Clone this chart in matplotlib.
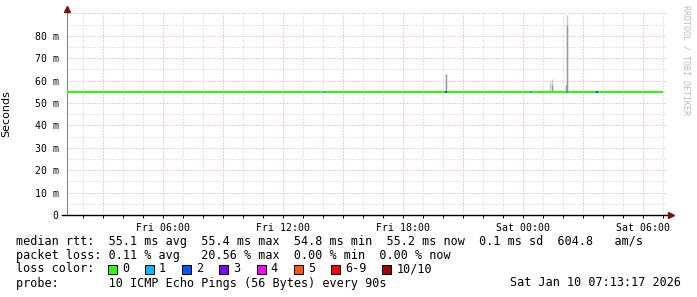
import matplotlib
matplotlib.use("Agg")
from matplotlib import pyplot as plt
from matplotlib.patches import Rectangle

# time axis: hours since Fri 00:00, window Fri 01:13 .. Sat 07:13
t_start = 1.2167
t_end = 31.2167
tick_hours = [6, 12, 18, 24, 30]
tick_labels = ['Fri 06:00', 'Fri 12:00', 'Fri 18:00', 'Sat 00:00', 'Sat 06:00']
ytick_vals = [0, 10, 20, 30, 40, 50, 60, 70, 80]
ytick_labels = ['0', '10 m', '20 m', '30 m', '40 m', '50 m', '60 m', '70 m', '80 m']

# median rtt (ms), one value per 30 min starting at t_start
median_ms = [55.1, 55.1, 55.1, 55.1, 55.1, 55.1, 55.1, 55.1, 55.1, 55.1,
             55.1, 55.1, 55.1, 55.1, 55.1, 55.1, 55.1, 55.1, 55.1, 55.1,
             55.1, 55.1, 55.1, 55.1, 55.1, 55.1, 55.1, 55.1, 55.1, 55.1,
             55.1, 55.1, 55.1, 55.1, 55.1, 55.1, 55.1, 55.1, 55.1, 55.1,
             55.1, 55.1, 55.1, 55.1, 55.1, 55.1, 55.1, 55.1, 55.1, 55.1,
             55.1, 55.1, 55.1, 55.1, 55.1, 55.1, 55.1, 55.1, 55.1, 55.1]

# short drops of the median line (start hour, duration h)
dip_hours = [2.12, 4.87, 6.47, 6.97, 7.27, 7.42, 7.72, 8.22, 9.02, 9.47,
             9.92, 10.12, 10.62, 11.62, 12.52, 13.27, 14.72, 15.47, 16.02,
             16.77, 16.97, 17.47, 18.37, 19.37, 20.47, 21.72, 22.72, 23.72,
             25.12, 26.27, 27.12, 28.22, 28.47, 28.82, 29.47, 29.82, 30.82]
dip_width = [0.1, 0.1, 0.1, 0.1, 0.1, 0.1, 0.1, 0.1, 0.1, 0.1,
             0.1, 0.1, 0.1, 0.1, 0.1, 0.1, 0.1, 0.1, 0.1,
             0.1, 0.1, 0.1, 0.1, 0.1, 0.1, 0.1, 0.1, 0.1,
             0.1, 0.1, 0.1, 0.1, 0.1, 0.1, 0.1, 0.3, 0.1]
dip_ms = 54.7

# packet loss events on the median line (hour, lost pings)
loss_hours = [14.12, 20.17, 24.42, 26.22, 27.67, 27.74]
loss_count = [1, 2, 1, 1, 1, 2]

# smoke spikes (hour, low ms, dark top ms, light top ms)
smoke_hours = [20.17, 25.37, 25.47, 26.17, 26.22]
smoke_lo = [55.2, 55.2, 55.2, 55.2, 55.2]
smoke_dark = [63.0, 55.2, 58.0, 58.0, 85.0]
smoke_light = [63.0, 59.5, 60.7, 58.0, 89.3]

loss_labels = ['0', '1', '2', '3', '4', '5', '6-9', '10/10']
loss_colors = ['#26ff00', '#00b8ff', '#0059ff', '#7e00ff', '#ff00ff',
               '#ff5500', '#ff0000', '#a00000']

W, H = 697, 297
fig = plt.figure(figsize=(W / 100, H / 100), dpi=100)
ax = fig.add_axes([67 / W, 1 - 215 / H, 600 / W, 203 / H])
ax.set_xlim(t_start, t_end)
ax.set_ylim(0, 90.6)

px = 0.72  # one pixel in points

# grid
for h in range(2, 32):
    major = (h % 3 == 0)
    ax.axvline(h, color='#e0a0a0' if major else '#cccccc', lw=px,
               ls=(0, (1, 2)), zorder=1)
for v in range(5, 91, 5):
    major = (v % 10 == 0)
    ax.axhline(v, color='#e0a0a0' if major else '#cccccc', lw=px,
               ls=(0, (1, 2)), zorder=1)

# smoke
ax.vlines(smoke_hours, smoke_lo, smoke_light, color='#c8c8c8', lw=1.4 * px, zorder=2)
ax.vlines(smoke_hours, smoke_lo, smoke_dark, color='#999999', lw=1.4 * px, zorder=2)

# median line
times = [t_start + 0.5 * i for i in range(len(median_ms))]
ax.step(times + [t_start + 0.5 * len(median_ms) - 0.2],
        median_ms + [median_ms[-1]], where='post',
        color=loss_colors[0], lw=2 * px, zorder=3, solid_capstyle='butt')
for h, w in zip(dip_hours, dip_width):
    ax.hlines(dip_ms, h, h + w, color=loss_colors[0], lw=2 * px, zorder=3)
for h, n in zip(loss_hours, loss_count):
    ax.hlines(55.1, h - 0.05, h + 0.05, color=loss_colors[n], lw=2 * px, zorder=4)

# axes
for s in ['top', 'right']:
    ax.spines[s].set_visible(False)
ax.spines['left'].set_color('#808080')
ax.spines['left'].set_linewidth(px)
ax.spines['bottom'].set_color('black')
ax.spines['bottom'].set_linewidth(1.4 * px)
ax.spines['bottom'].set_bounds(t_start - 0.25, t_end + 0.05)
ax.plot([t_start], [92.0], marker='^', ms=4, color='#7f1010', clip_on=False, zorder=5)
ax.plot([t_end + 0.18], [0], marker='>', ms=4, color='#7f1010', clip_on=False, zorder=5)

mono = 'DejaVu Sans Mono'
ax.set_xticks(tick_hours)
ax.set_xticklabels(tick_labels, fontfamily=mono, fontsize=7.1)
ax.set_xticks(range(2, 32), minor=True)
ax.tick_params(axis='x', which='major', length=2, width=px, pad=3.5, color='black')
ax.tick_params(axis='x', which='minor', length=2, width=px, color='black')
ax.set_yticks(ytick_vals)
ax.set_yticklabels(ytick_labels, fontfamily=mono, fontsize=7.1)
ax.tick_params(axis='y', length=0, pad=6)
ax.set_ylabel('Seconds', fontsize=8, fontfamily='DejaVu Sans', labelpad=14)
ax.yaxis.set_label_coords(-(67 - 11) / 600, 0.5)

fig.text(686 / W, 1 - 5 / H, 'RRDTOOL / TOBI OETIKER', rotation=-90,
         ha='center', va='top', fontfamily=mono, fontsize=6, color='#bbbbbb')

# legend text
fs = 8.5
cw = 7.13
lines = [
    'median rtt:  55.1 ms avg  55.4 ms max  54.8 ms min  55.2 ms now  0.1 ms sd  604.8   am/s',
    'packet loss: 0.11 % avg   20.56 % max  0.00 % min  0.00 % now',
    'loss color:',
    'probe:       10 ICMP Echo Pings (56 Bytes) every 90s',
]
ys = [241, 255, 269, 283]
for txt, y in zip(lines, ys):
    fig.text(16 / W, 1 - y / H, txt, ha='left', va='center',
             fontfamily=mono, fontsize=fs, color='black')
fig.text(681 / W, 1 - 283 / H, 'Sat Jan 10 07:13:17 2026', ha='right',
         va='center', fontfamily=mono, fontsize=fs, color='black')

bx = 108
for lab, col in zip(loss_labels, loss_colors):
    fig.patches.append(Rectangle((bx / W, 1 - 274 / H), 9 / W, 9 / H,
                                 transform=fig.transFigure, facecolor=col,
                                 edgecolor='black', lw=px))
    fig.text((bx + 14) / W, 1 - 269 / H, lab, ha='left', va='center',
             fontfamily=mono, fontsize=fs, color='black')
    bx = bx + 14 + cw * len(lab) + 16

fig.savefig('out.png', dpi=100)
